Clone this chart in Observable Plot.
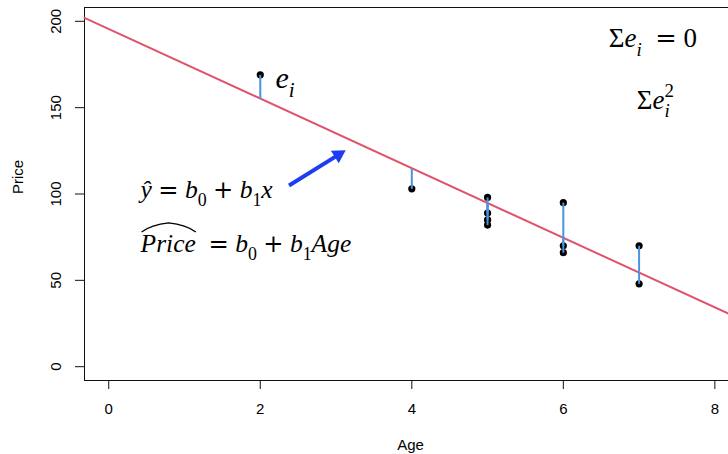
<!DOCTYPE html>
<html><head><meta charset="utf-8">
<script src="https://cdn.jsdelivr.net/npm/d3@7"></script>
<script src="https://cdn.jsdelivr.net/npm/@observablehq/plot@0.6"></script>
<style>
html,body{margin:0;padding:0;background:#fff;}
</style>
</head><body><div id="chart"></div>
<script>
// ---- data ----
const ages   = [2, 4, 5, 5, 5, 5, 6, 6, 6, 7, 7];
const prices = [169, 103, 98, 89, 85, 82, 95, 70, 66, 70, 48];
const fitAges = [2, 4, 5, 6, 7];
const fitted  = [155, 115, 95, 75, 55];
const lineX = [-0.32, 8.18];
const lineY = [202, 30.7];
const xTicks = [0, 2, 4, 6, 8];
const yTicks = [0, 50, 100, 150, 200];
const xLabel = "Age";
const yLabel = "Price";
const bigLabel = ["*e*_{*i*}"];
const bigX = [2.2];
const bigY = [161.6];
const sumLabels = ["Σ*e*_{*i*}\u2002= 0", "Σ*e*_{*i*}^{2}"];
const sumX = [6.6, 6.97];
const sumY = [185.2, 149.5];
const eqLabels = ["*ŷ* = *b*_{0} + *b*_{1}*x*", "~{Price}\u2002= *b*_{0} + *b*_{1}*Age*"];
const eqX = [0.42, 0.42];
const eqY = [97.5, 66.5];
const arrowFrom = [2.38, 104.9];
const arrowTo = [3.155, 126.1];

// ---- layout ----
const W = 728, H = 454;
const mL = 84, mR = 0, mT = 7, mB = 74;
const xDomain = [-0.32, 8.18], yDomain = [-8, 208];
const xs = Plot.scale({x: {domain: xDomain, range: [mL, W - mR]}});
const ys = Plot.scale({y: {domain: yDomain, range: [H - mB, mT]}});

const pts = ages.map((a, i) => ({age: a, price: prices[i], fit: fitted[fitAges.indexOf(a)]}));
const lineData = lineX.map((x, i) => ({x, y: lineY[i]}));
const big = bigLabel.map((t, i) => ({t, x: bigX[i], y: bigY[i]}));
const sums = sumLabels.map((t, i) => ({t, x: sumX[i], y: sumY[i]}));
const eqs = eqLabels.map((t, i) => ({t, x: eqX[i], y: eqY[i]}));

// arrow geometry (pixel space)
const Sx = xs.apply(arrowFrom[0]), Sy = ys.apply(arrowFrom[1]);
const Tx = xs.apply(arrowTo[0]), Ty = ys.apply(arrowTo[1]);
const len = Math.hypot(Tx - Sx, Ty - Sy);
const ux = (Tx - Sx) / len, uy = (Ty - Sy) / len;
const hy = 5.5;
const headR = Math.sqrt(Math.sqrt(3) * 3 * hy * hy / Math.PI);
const angle = Math.atan2(ux, -uy) * 180 / Math.PI;
const head = [{x: xs.invert(Tx - ux * 2 * hy), y: ys.invert(Ty - uy * 2 * hy)}];
const shaft = [{x1: arrowFrom[0], y1: arrowFrom[1], x2: xs.invert(Tx - ux * 14), y2: ys.invert(Ty - uy * 14)}];

const serif = "'Liberation Serif', 'Times New Roman', serif";
const plot = Plot.plot({
  width: W, height: H,
  marginLeft: mL, marginRight: mR, marginTop: mT, marginBottom: mB,
  style: {fontFamily: "'Liberation Sans', Arial, sans-serif", fontSize: "15px", color: "#000", background: "#fff"},
  x: {domain: xDomain},
  y: {domain: yDomain},
  marks: [
    Plot.frame({anchor: "top", stroke: "#111"}),
    Plot.frame({anchor: "left", stroke: "#111"}),
    Plot.frame({anchor: "bottom", stroke: "#111"}),
    Plot.axisX({ticks: xTicks, tickSize: 9, tickPadding: 14, label: null, stroke: "#111"}),
    Plot.axisY({ticks: yTicks, tickSize: 9, tickPadding: 15, tickRotate: -90, label: null, stroke: "#111"}),
    Plot.text([xLabel], {frameAnchor: "bottom", text: d => d, dx: 4, dy: 69, lineAnchor: "bottom", fontSize: 15}),
    Plot.text([yLabel], {frameAnchor: "left", text: d => d, dx: -66, rotate: -90, lineAnchor: "middle", fontSize: 15}),
    Plot.line(lineData, {x: "x", y: "y", stroke: "#DF536B", strokeWidth: 2}),
    Plot.dot(pts, {x: "age", y: "price", r: 3.6, fill: "#000"}),
    Plot.link(pts, {x1: "age", y1: "price", x2: "age", y2: "fit", stroke: "#4C93DD", strokeWidth: 2}),
    Plot.link(shaft, {x1: "x1", y1: "y1", x2: "x2", y2: "y2", stroke: "#1E3CF2", strokeWidth: 4}),
    Plot.dot(head, {x: "x", y: "y", symbol: "triangle2", r: headR, rotate: angle, fill: "#1E3CF2", stroke: "none"}),
    Plot.text(big, {x: "x", y: "y", text: "t", textAnchor: "start", lineAnchor: "bottom", fontSize: 30, fontFamily: serif, className: "eq"}),
    Plot.text(sums, {x: "x", y: "y", text: "t", textAnchor: "start", lineAnchor: "bottom", fontSize: 27, fontFamily: serif, className: "eq"}),
    Plot.text(eqs, {x: "x", y: "y", text: "t", textAnchor: "start", lineAnchor: "bottom", fontSize: 25.5, fontFamily: serif, className: "eq"})
  ]
});
document.getElementById("chart").appendChild(plot);

// ---- turn the mini math markup into tspans ----
function renderMath(textEl) {
  const src = textEl.textContent;
  const fs = parseFloat(getComputedStyle(textEl).fontSize);
  while (textEl.firstChild) textEl.removeChild(textEl.firstChild);
  let italic = false, mode = 0, hat = false, cur = 0, run = "";
  let lastSub = null;
  const NS = "http://www.w3.org/2000/svg";
  const emit = (txt, opts) => {
    const ts = document.createElementNS(NS, "tspan");
    ts.textContent = txt;
    if (opts.italic) ts.setAttribute("font-style", "italic");
    if (opts.op) ts.setAttribute("font-family", "'DejaVu Serif', serif");
    const target = opts.mode === -1 ? fs * 0.32 : opts.mode === 1 ? -fs * 0.42 : 0;
    if (opts.mode !== 0) ts.setAttribute("font-size", fs * 0.7);
    else if (opts.op) ts.setAttribute("font-size", fs * 0.95);
    if (target !== cur) ts.setAttribute("dy", target - cur);
    cur = target;
    if (opts.mode === 1 && lastSub) ts.setAttribute("dx", -lastSub.getComputedTextLength());
    if (opts.hat) ts.setAttribute("class", "widehat");
    textEl.appendChild(ts);
    lastSub = opts.mode === -1 ? ts : null;
  };
  const flush = () => {
    if (!run) return;
    const parts = run.split(/([=+])/);
    for (const p of parts) {
      if (!p) continue;
      emit(p, {italic: italic || hat, mode, hat, op: p === "=" || p === "+"});
    }
    run = "";
  };
  for (let i = 0; i < src.length; i++) {
    const c = src[i];
    if (c === "*") { flush(); italic = !italic; }
    else if ((c === "_" || c === "^" || c === "~") && src[i + 1] === "{") {
      flush();
      if (c === "_") mode = -1; else if (c === "^") mode = 1; else hat = true;
      i++;
    }
    else if (c === "}") { flush(); mode = 0; hat = false; }
    else run += c;
  }
  flush();
  // wide hat
  const wh = textEl.querySelector("tspan.widehat");
  if (wh) {
    const n = wh.textContent.length;
    let idx = 0;
    for (const t of textEl.childNodes) { if (t === wh) break; idx += t.textContent.length; }
    const start = textEl.getStartPositionOfChar(idx);
    const end = textEl.getEndPositionOfChar(idx + n - 1);
    const x0 = start.x + 1, x1 = end.x, xm = (x0 + x1) / 2;
    const yb = start.y - fs * 0.78, yt = yb - 9;
    const p = document.createElementNS(NS, "path");
    p.setAttribute("d", `M${x0},${yb} Q${x0 + (x1 - x0) * 0.18},${yt + 2} ${xm},${yt} Q${x1 - (x1 - x0) * 0.18},${yt + 2} ${x1},${yb}`);
    p.setAttribute("fill", "none");
    p.setAttribute("stroke", "#000");
    p.setAttribute("stroke-width", 1.3);
    if (textEl.getAttribute("transform")) p.setAttribute("transform", textEl.getAttribute("transform"));
    textEl.parentNode.appendChild(p);
  }
}
plot.querySelectorAll("g.eq text").forEach(renderMath);
</script>
</body></html>
